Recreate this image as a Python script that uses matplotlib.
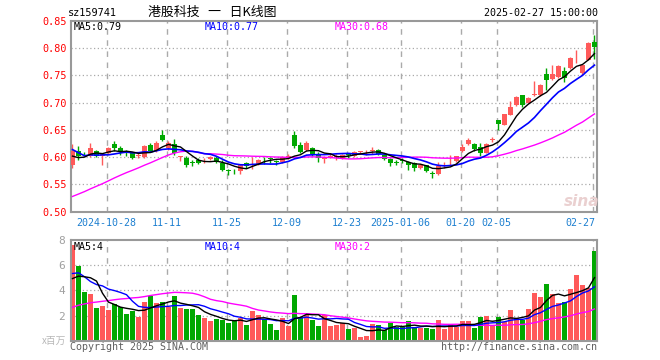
import matplotlib
matplotlib.use("Agg")
import matplotlib.pyplot as plt
import matplotlib.transforms as mtransforms
import numpy as np
import pandas as pd

# ---------------- data ----------------
opens = [0.585, 0.612, 0.606, 0.603, 0.611, 0.603, 0.608, 0.624, 0.617, 0.611,
         0.607, 0.602, 0.600, 0.622, 0.612, 0.641, 0.616, 0.625, 0.601, 0.599,
         0.591, 0.595, 0.594, 0.596, 0.598, 0.590, 0.576, 0.575, 0.574, 0.590,
         0.598, 0.587, 0.599, 0.598, 0.593, 0.591, 0.600, 0.641, 0.623, 0.613,
         0.617, 0.606, 0.597, 0.601, 0.600, 0.599, 0.605, 0.603, 0.610, 0.609,
         0.611, 0.613, 0.604, 0.597, 0.591, 0.594, 0.592, 0.589, 0.580, 0.585,
         0.571, 0.569, 0.587, 0.594, 0.593, 0.611, 0.625, 0.625, 0.619, 0.608,
         0.632, 0.668, 0.660, 0.678, 0.696, 0.714, 0.700, 0.715, 0.714, 0.752,
         0.743, 0.748, 0.758, 0.763, 0.785, 0.754, 0.779, 0.812]
highs = [0.625, 0.620, 0.609, 0.626, 0.614, 0.608, 0.619, 0.630, 0.621, 0.614,
         0.610, 0.609, 0.623, 0.626, 0.629, 0.650, 0.629, 0.634, 0.603, 0.603,
         0.594, 0.599, 0.598, 0.602, 0.602, 0.594, 0.579, 0.579, 0.588, 0.592,
         0.600, 0.597, 0.600, 0.600, 0.594, 0.603, 0.605, 0.649, 0.628, 0.629,
         0.618, 0.609, 0.603, 0.607, 0.605, 0.606, 0.607, 0.612, 0.612, 0.614,
         0.618, 0.615, 0.607, 0.598, 0.595, 0.598, 0.593, 0.592, 0.587, 0.586,
         0.575, 0.592, 0.592, 0.604, 0.603, 0.625, 0.636, 0.627, 0.627, 0.627,
         0.637, 0.668, 0.680, 0.703, 0.712, 0.715, 0.711, 0.740, 0.734, 0.763,
         0.769, 0.769, 0.766, 0.784, 0.797, 0.770, 0.812, 0.824]
lows = [0.580, 0.595, 0.602, 0.600, 0.600, 0.586, 0.606, 0.612, 0.604, 0.603,
        0.597, 0.599, 0.599, 0.610, 0.610, 0.629, 0.614, 0.604, 0.593, 0.582,
        0.584, 0.587, 0.590, 0.594, 0.589, 0.574, 0.567, 0.569, 0.569, 0.580,
        0.579, 0.585, 0.588, 0.590, 0.586, 0.589, 0.596, 0.617, 0.607, 0.612,
        0.603, 0.591, 0.589, 0.598, 0.595, 0.597, 0.598, 0.601, 0.605, 0.604,
        0.605, 0.604, 0.595, 0.584, 0.586, 0.589, 0.577, 0.575, 0.578, 0.572,
        0.561, 0.567, 0.580, 0.586, 0.591, 0.609, 0.622, 0.611, 0.602, 0.607,
        0.628, 0.650, 0.659, 0.677, 0.694, 0.693, 0.699, 0.713, 0.713, 0.723,
        0.742, 0.746, 0.738, 0.761, 0.772, 0.751, 0.778, 0.781]
closes = [0.612, 0.602, 0.605, 0.617, 0.603, 0.606, 0.617, 0.616, 0.609, 0.607,
          0.599, 0.604, 0.621, 0.612, 0.627, 0.631, 0.627, 0.607, 0.602, 0.585,
          0.590, 0.589, 0.595, 0.600, 0.591, 0.577, 0.575, 0.574, 0.585, 0.583,
          0.599, 0.595, 0.598, 0.597, 0.592, 0.600, 0.601, 0.620, 0.610, 0.626,
          0.606, 0.598, 0.598, 0.603, 0.601, 0.604, 0.604, 0.610, 0.611, 0.610,
          0.612, 0.606, 0.597, 0.589, 0.590, 0.593, 0.586, 0.581, 0.586, 0.575,
          0.570, 0.583, 0.588, 0.595, 0.602, 0.619, 0.631, 0.615, 0.607, 0.625,
          0.633, 0.661, 0.679, 0.693, 0.711, 0.696, 0.709, 0.716, 0.732, 0.742,
          0.752, 0.767, 0.746, 0.783, 0.786, 0.769, 0.810, 0.803]
volumes = [7.59, 5.95, 3.86, 3.70, 2.59, 2.75, 2.43, 2.91, 2.65, 2.12,
           2.38, 1.90, 3.07, 3.54, 2.99, 3.07, 2.70, 3.54, 2.62, 2.51,
           2.51, 2.04, 1.83, 1.56, 1.75, 1.66, 1.40, 1.55, 1.80, 1.24,
           2.35, 2.04, 1.69, 1.32, 0.85, 1.80, 1.16, 3.62, 1.85, 2.04,
           1.64, 1.16, 2.04, 1.16, 1.24, 1.38, 0.93, 1.03, 0.32, 0.37,
           1.32, 1.24, 0.85, 1.38, 1.06, 1.11, 1.56, 1.06, 1.03, 1.03,
           0.93, 1.64, 0.93, 1.24, 1.11, 1.56, 1.56, 1.03, 1.90, 1.98,
           1.24, 1.90, 1.51, 2.43, 1.77, 1.64, 2.51, 3.81, 3.47, 4.52,
           3.70, 3.02, 3.10, 4.10, 5.21, 4.44, 4.15, 7.14]

# sessions before the first visible candle (only used for the moving averages)
prior_closes = [0.470, 0.470, 0.465, 0.460, 0.465, 0.460, 0.455, 0.460, 0.465, 0.470,
                0.470, 0.475, 0.480, 0.480, 0.485, 0.490, 0.500, 0.530, 0.550, 0.600,
                0.660, 0.660, 0.600, 0.610, 0.600, 0.616, 0.600, 0.590, 0.592]
prior_volumes = [0.80, 0.90, 0.85, 0.95, 0.90, 0.80, 0.85, 0.90, 1.00, 0.90,
                 0.85, 0.95, 0.90, 0.90, 0.95, 1.00, 2.00, 3.00, 3.20, 3.50,
                 5.40, 7.00, 7.50, 5.00, 3.80, 5.00, 4.10, 4.10, 3.90]

tick_index = [6, 16, 26, 36, 46, 55, 65, 71, 87]
tick_labels = ['2024-10-28', '11-11', '11-25', '12-09', '12-23',
               '2025-01-06', '01-20', '02-05', '02-27']
price_ticks = [0.50, 0.55, 0.60, 0.65, 0.70, 0.75, 0.80, 0.85]
vol_ticks = [2, 4, 6, 8]

# ---------------- styling ----------------
RED = '#ff5a5a'
GREEN = '#00a800'
GRID = '#aaaaaa'
FRAME = '#999999'
MONO = 'DejaVu Sans Mono'
CJK = ['Noto Sans CJK SC', 'DejaVu Sans']

W, H = 660, 360
fig = plt.figure(figsize=(W / 100, H / 100), dpi=100)
fig.patch.set_facecolor('white')


def fx(px):
    return px / W


def fy(py):
    return 1 - py / H


L, R = 70.7, 597.3
ax = fig.add_axes([fx(L), fy(211.7), fx(R - L), (211.7 - 21.0) / H])
axv = fig.add_axes([fx(L), fy(340.7), fx(R - L), (340.7 - 240.0) / H])

n = len(closes)
x = np.arange(n)
o = np.array(opens)
c = np.array(closes)
hi = np.array(highs)
lo = np.array(lows)
v = np.array(volumes)
up = c >= o
cols = np.where(up, RED, GREEN)

all_close = pd.Series(prior_closes + closes)
all_vol = pd.Series(prior_volumes + volumes)
k = len(prior_closes)
ma = {p: all_close.rolling(p, min_periods=1).mean().to_numpy()[k:] for p in (5, 10, 30)}
vma = {p: all_vol.rolling(p, min_periods=1).mean().to_numpy()[k:] for p in (5, 10, 30)}

for a in (ax, axv):
    a.set_xlim(-0.3, 87.47)
    for s in a.spines.values():
        s.set_color(FRAME)
        s.set_linewidth(1.5)
    for t in tick_index:
        a.axvline(t - 0.33, color=GRID, lw=1.0, ls=(0, (4, 4)), zorder=0)
    a.tick_params(axis='x', length=0, labelbottom=False)
    a.tick_params(axis='y', length=0)

# ---- price panel ----
ax.set_ylim(0.50, 0.85)
for yv in price_ticks[1:-1]:
    ax.axhline(yv, color=GRID, lw=0.9, ls=(0, (1, 2)), zorder=0)
ax.set_yticks(price_ticks)
ax.set_yticklabels([f'{t:.2f}' for t in price_ticks], color='#ff0000',
                   fontsize=7.3, family=MONO)
ax.tick_params(axis='y', pad=3)

ax.vlines(x, lo, hi, colors=cols, lw=1.0, zorder=2)
body_bottom = np.minimum(o, c)
body_h = np.maximum(np.abs(c - o), 0.0014)
ax.bar(x, body_h, bottom=body_bottom, width=0.78, color=cols, linewidth=0, zorder=3)

ax.plot(x, ma[30], color='#ff00ff', lw=1.0, zorder=4)
ax.plot(x, ma[10], color='#0000ff', lw=1.2, zorder=4)
ax.plot(x, ma[5], color='#000000', lw=1.0, zorder=5)

# ---- volume panel ----
axv.set_ylim(0, 8)
for yv in vol_ticks[:-1]:
    axv.axhline(yv, color=GRID, lw=0.9, ls=(0, (1, 2)), zorder=0)
axv.set_yticks(vol_ticks)
axv.set_yticklabels([str(t) for t in vol_ticks], color='#a0a0a0',
                    fontsize=8, family=MONO)
axv.tick_params(axis='y', pad=4)
axv.bar(x, v, width=0.82, color=cols, linewidth=0, zorder=2)
axv.plot(x, vma[30], color='#ff00ff', lw=1.0, zorder=4)
axv.plot(x, vma[10], color='#0000ff', lw=1.0, zorder=4)
axv.plot(x, vma[5], color='#000000', lw=1.0, zorder=5)

# ---- date labels ----
trans = mtransforms.blended_transform_factory(ax.transData, ax.transAxes)
for t, lab in zip(tick_index, tick_labels):
    if t == tick_index[-1]:
        ax.text(t + 0.2, -0.032, lab, transform=trans, ha='right', va='top',
                color='#1c7fd0', fontsize=7.2, family=MONO)
    else:
        ax.text(t - 0.33, -0.032, lab, transform=trans, ha='center', va='top',
                color='#1c7fd0', fontsize=7.2, family=MONO)

# ---- texts ----
fig.text(fx(68), fy(12.5), 'sz159741', ha='left', va='center', fontsize=7.4,
         family=MONO, color='black')
fig.text(fx(148), fy(12.5), '港股科技   一   日K线图', ha='left', va='center',
         fontsize=9.3, family=CJK, color='black')
fig.text(fx(598), fy(12.5), '2025-02-27 15:00:00', ha='right', va='center',
         fontsize=7.2, family=MONO, color='black')

fig.text(fx(74), fy(26.5), 'MA5:0.79', ha='left', va='center', fontsize=7.2,
         family=MONO, color='black')
fig.text(fx(205), fy(26.5), 'MA10:0.77', ha='left', va='center', fontsize=7.2,
         family=MONO, color='#0000ff')
fig.text(fx(335), fy(26.5), 'MA30:0.68', ha='left', va='center', fontsize=7.2,
         family=MONO, color='#ff00ff')

fig.text(fx(74), fy(246.5), 'MA5:4', ha='left', va='center', fontsize=7.2,
         family=MONO, color='black')
fig.text(fx(205), fy(246.5), 'MA10:4', ha='left', va='center', fontsize=7.2,
         family=MONO, color='#0000ff')
fig.text(fx(335), fy(246.5), 'MA30:2', ha='left', va='center', fontsize=7.2,
         family=MONO, color='#ff00ff')

fig.text(fx(66), fy(341), 'x百万', ha='right', va='center', fontsize=7,
         family=CJK, color='#b8b8b8')
fig.text(fx(70), fy(347.5), 'Copyright 2025 SINA.COM', ha='left', va='center',
         fontsize=7.2, family=MONO, color='#606060')
fig.text(fx(597), fy(347.5), 'http://finance.sina.com.cn', ha='right', va='center',
         fontsize=7.2, family=MONO, color='#606060')
fig.text(fx(582), fy(201), 'sina', ha='center', va='center', fontsize=11,
         style='italic', weight='bold', color='#ead0d0', family='DejaVu Sans')

fig.savefig('out.png', dpi=100, facecolor='white')
